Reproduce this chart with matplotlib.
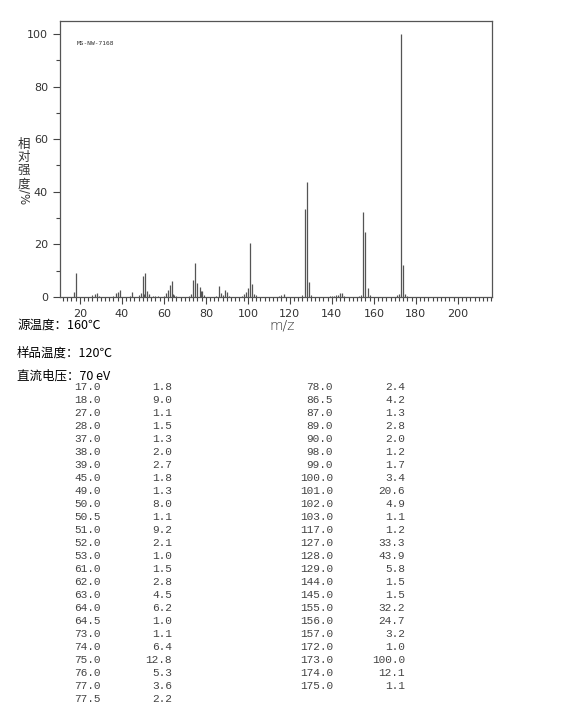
import matplotlib.pyplot as plt
import numpy as np
from matplotlib.ticker import MultipleLocator

plt.rcParams['font.family'] = ['Noto Sans CJK SC', 'DejaVu Sans']

# 质谱峰 (m/z, 相对强度)
mz = [17.0, 18.0, 27.0, 28.0, 37.0, 38.0, 39.0, 45.0, 49.0, 50.0, 50.5, 51.0,
      52.0, 53.0, 61.0, 62.0, 63.0, 64.0, 64.5, 73.0, 74.0, 75.0, 76.0, 77.0,
      77.5, 78.0, 86.5, 87.0, 89.0, 90.0, 98.0, 99.0, 100.0, 101.0, 102.0,
      103.0, 117.0, 127.0, 128.0, 129.0, 144.0, 145.0, 155.0, 156.0, 157.0,
      172.0, 173.0, 174.0, 175.0]
intensity = [1.8, 9.0, 1.1, 1.5, 1.3, 2.0, 2.7, 1.8, 1.3, 8.0, 1.1, 9.2,
             2.1, 1.0, 1.5, 2.8, 4.5, 6.2, 1.0, 1.1, 6.4, 12.8, 5.3, 3.6,
             2.2, 2.4, 4.2, 1.3, 2.8, 2.0, 1.2, 1.7, 3.4, 20.6, 4.9,
             1.1, 1.2, 33.3, 43.9, 5.8, 1.5, 1.5, 32.2, 24.7, 3.2,
             1.0, 100.0, 12.1, 1.1]

# 表里没有的小峰 (估计值)
minor_mz = [26, 29, 36, 44, 48, 55, 56, 57, 60, 65, 66, 72, 79, 85, 88, 91,
            97, 104, 115, 116, 126, 130, 139, 140, 141, 142, 143, 146, 153,
            154, 158, 171, 176]
minor_int = [0.6, 0.5, 0.4, 0.5, 0.6, 0.4, 0.3, 0.3, 0.5, 0.7, 0.4, 0.5, 0.6,
             0.4, 0.8, 0.5, 0.5, 0.6, 0.5, 0.7, 0.8, 0.6, 0.4, 0.5, 0.5, 0.6,
             0.7, 0.5, 0.5, 0.8, 0.6, 0.7, 0.5]

info = ['源温度：160℃', '样品温度：120℃', '直流电压：70 eV']
ylabel_chars = ['相', '对', '强', '度']

fig = plt.figure(figsize=(5.7, 7.12), dpi=100)
ax = fig.add_axes([0.105, 0.583, 0.758, 0.3876])

ax.vlines(minor_mz, 0, minor_int, color='#555555', lw=0.8)
ax.vlines(mz, 0, intensity, color='#555555', lw=0.9)

ax.set_xlim(10.5, 216.2)
ax.set_ylim(0, 105)
ax.xaxis.set_minor_locator(MultipleLocator(2))
ax.yaxis.set_major_locator(MultipleLocator(20))
ax.yaxis.set_minor_locator(MultipleLocator(10))
ax.set_xticks(np.arange(20, 201, 20))
ax.tick_params(axis='both', which='major', length=5, width=0.8, color='#444444',
               labelsize=8, labelcolor='#333333', direction='out')
ax.tick_params(axis='both', which='minor', length=3, width=0.8, color='#444444',
               direction='out')
for lab in ax.get_xticklabels() + ax.get_yticklabels():
    lab.set_family('DejaVu Sans')
for s in ax.spines.values():
    s.set_color('#555555')
    s.set_linewidth(0.9)

ax.text(0.039, 0.917, 'MS-NW-7168', transform=ax.transAxes, fontsize=4.5,
        family='DejaVu Sans Mono', color='#333333', va='center')

# 纵轴标题: 竖排汉字 + 旋转的 "/%"
for k, ch in enumerate(ylabel_chars):
    fig.text(24 / 570, 1 - (144 + k * 13.3) / 712, ch, fontsize=9,
             color='#333333', ha='center', va='center')
fig.text(24 / 570, 1 - 197 / 712, '/%', fontsize=8.5, color='#333333',
         rotation=270, ha='center', va='center', family='DejaVu Sans')

fig.text(0.495, 0.5435, 'm/z', fontsize=10, color='#333333', ha='center',
         va='center', family='DejaVu Sans', fontweight='light')

for t, y in zip(info, [0.5435, 0.504, 0.472]):
    fig.text(0.03, y, t, fontsize=9, ha='left', va='center', color='#000000')

# 峰表
n_left = 25
for i, (m, v) in enumerate(zip(mz, intensity)):
    col = 0 if i < n_left else 1
    row = i if i < n_left else i - n_left
    ypx = 387 + row * 13
    xm = [101, 333][col]
    xv = [172, 405][col]
    y = 1 - ypx / 712
    fig.text(xm / 570, y, '%.1f' % m, fontsize=8, family='Liberation Mono',
             ha='right', va='center', color='#444444')
    fig.text(xv / 570, y, '%.1f' % v, fontsize=8, family='Liberation Mono',
             ha='right', va='center', color='#444444')

fig.savefig('out.png', dpi=100)
